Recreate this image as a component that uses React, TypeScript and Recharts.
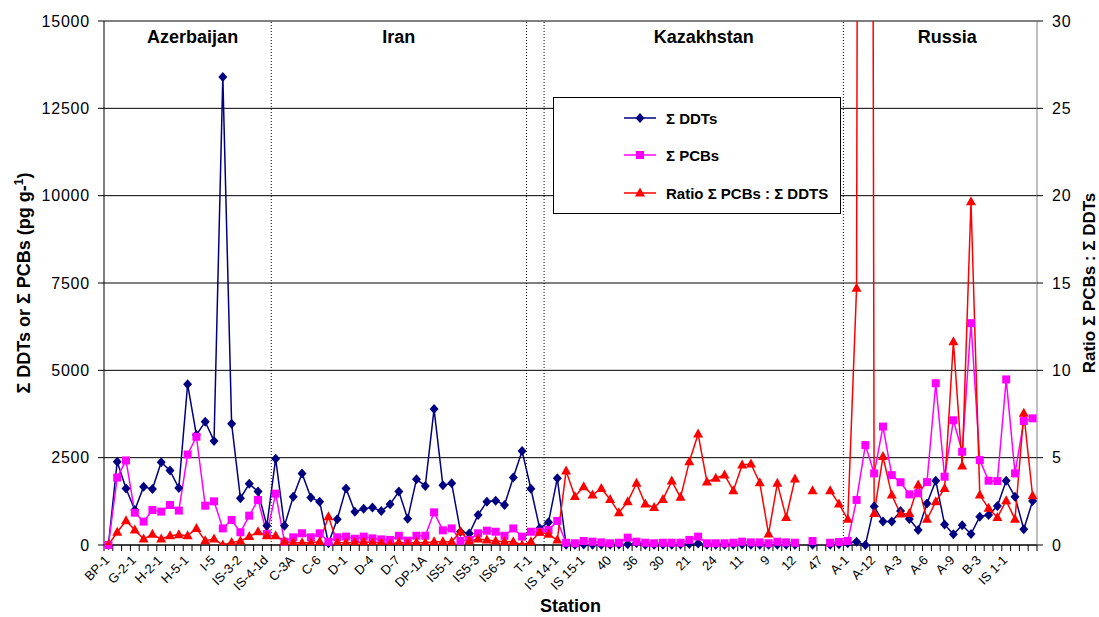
import {
  LineChart,
  Line,
  XAxis,
  YAxis,
  CartesianGrid,
  ReferenceLine,
  ReferenceArea,
} from 'recharts';

// station codes, west to east (only every third one is labelled on the axis)
const stations = [
  'BP-1', 'G-1-1', 'G-1-2', 'G-2-1', 'G-2-2', 'H-1-1', 'H-2-1', 'H-3-1', 'H-4-1', 'H-5-1',
  'I-3', 'I-4', 'I-5', 'IS-2-1', 'IS-3-1', 'IS-3-2', 'IS-4-1a', 'IS-4-1c', 'IS-4-1d', 'C-1',
  'C-2', 'C-3A', 'C-4', 'C-5', 'C-6', 'C-7', 'C-8', 'D-1', 'D-2', 'D-3',
  'D-4', 'D-5', 'D-6', 'D-7', 'D-8', 'DP-1', 'DP-1A', 'DP-2', 'IS4-1', 'IS5-1',
  'IS5-2', 'IS5-2A', 'IS5-3', 'IS6-1', 'IS6-2', 'IS6-3', 'IS7-1', 'IS7-2', 'T-1', 'IS 13-1',
  'IS 13-2', 'IS 14-1', 'IS 14-2', 'IS 14-3', 'IS 15-1', '42', '41', '40', '39', '37',
  '36', '35', '31', '30', '29', '22', '21', '23', '26', '24',
  '19', '13', '11', '10', '8', '9', '14', '15', '12', '46',
  '48', '47', '45', 'A-2', 'A-1', 'A-13', 'A-11', 'A-12', 'A-4', 'A-5',
  'A-3', 'A-7', 'A-8', 'A-6', 'A-10', 'A-11b', 'A-9', 'B-1', 'B-2', 'B-3',
  'IS 2-1', 'IS 2-2', 'IS 1-1', 'IS 1-2', 'IS 1-3', 'IS 1-4',
];

// sum of DDTs, pg/g
const ddt = [
  0, 2385, 1620, 1000, 1670, 1600, 2370, 2130, 1630, 4600,
  3150, 3530, 2980, 13400, 3470, 1340, 1750, 1530, 550, 2470,
  550, 1380, 2050, 1360, 1240, 50, 735, 1620, 950, 1040,
  1070, 970, 1170, 1530, 750, 1880, 1690, 3890, 1710, 1765,
  380, 330, 860, 1240, 1270, 1145, 1930, 2690, 1610, 480,
  650, 1910, 10, 5, 15, 10, 5, 10, 15, 20,
  60, 10, 5, 10, 10, 15, 30, 45, 10, 5,
  10, 10, 15, 10, 10, 5, 10, 10, 5, null,
  10, null, 10, 20, 50, 95, 0, 1100, 670, 670,
  970, 745, 430, 1190, 1840, 590, 305, 565, 315, 810,
  860, 1115, 1840, 1380, 450, 1260,
];

// sum of PCBs, pg/g
const pcb = [
  0, 1930, 2420, 925, 670, 1000, 955, 1145, 985, 2590,
  3100, 1125, 1250, 475, 715, 365, 840, 1290, 315, 1470,
  95, 220, 335, 220, 335, 95, 220, 240, 180, 240,
  190, 160, 145, 265, 125, 265, 265, 935, 420, 475,
  120, 145, 335, 410, 380, 265, 475, 240, 380, 380,
  430, 690, 65, 50, 115, 95, 75, 50, 65, 210,
  95, 65, 50, 65, 65, 65, 145, 240, 50, 50,
  50, 65, 95, 75, 75, 50, 95, 75, 65, null,
  115, null, 65, 85, 115, 1290, 2860, 2050, 3390, 2000,
  1795, 1450, 1480, 1800, 4630, 1955, 3570, 2670, 6350, 2430,
  1840, 1830, 4740, 2050, 3550, 3625,
];

// ratio PCBs : DDTs (A-13 is far off the scale)
const ratio = [
  0, 0.73, 1.39, 0.86, 0.34, 0.61, 0.34, 0.53, 0.59, 0.53,
  0.95, 0.25, 0.34, 0, 0.15, 0.23, 0.48, 0.76, 0.53, 0.53,
  0.19, 0.15, 0.13, 0.13, 0.19, 1.62, 0.15, 0.13, 0.15, 0.19,
  0.13, 0.13, 0.04, 0.15, 0.1, 0.15, 0.13, 0.19, 0.19, 0.19,
  0.76, 0.23, 0.34, 0.29, 0.23, 0.19, 0.19, 0, 0.19, 0.73,
  0.61, 0.29, 4.24, 2.77, 3.34, 2.86, 3.24, 2.61, 1.85, 2.48,
  3.53, 2.35, 2.14, 2.61, 3.66, 2.73, 4.77, 6.35, 3.61, 3.82,
  4.01, 3.11, 4.58, 4.64, 3.57, 0.63, 3.53, 1.58, 3.78, null,
  3.11, null, 3.11, 2.35, 1.47, 14.7, 250, 1.81, 5.06, 2.86,
  1.77, 1.81, 3.44, 1.47, 2.48, 3.24, 11.64, 4.52, 19.65, 2.86,
  2.1, 1.58, 2.54, 1.47, 7.54, 2.82,
];

const regions = [
  { name: 'Azerbaijan', from: -0.5, to: 18.5, dx: 5 },
  { name: 'Iran', from: 18.5, to: 47.5, dx: 0 },
  { name: 'Kazakhstan', from: 49.5, to: 83.5, dx: 10 },
  { name: 'Russia', from: 83.5, to: 105.5, dx: 7 },
];
const dividers = [18.5, 47.5, 49.5, 83.5];

const leftTicks = [0, 2500, 5000, 7500, 10000, 12500, 15000];
const rightTicks = [0, 5, 10, 15, 20, 25, 30];
const LABEL_EVERY = 3;

const data = stations.map((station, i) => ({
  idx: i,
  station,
  ddt: ddt[i],
  pcb: pcb[i],
  ratio: ratio[i],
}));

// category boundaries, where Excel puts its tick marks
const boundaries = stations.map((_, i) => i - 0.5).concat(stations.length - 0.5);

const W = 1099;
const H = 617;
const PLOT_W = 933;
const HALF_BAND = PLOT_W / stations.length / 2;
const FONT = 'Arial, "Liberation Sans", sans-serif';

const StationTick = (props: any) => {
  const { x, y, payload } = props;
  const k = payload.value + 0.5;
  // Excel drops the last label, it would not fit
  if (k % LABEL_EVERY !== 0 || k + LABEL_EVERY > stations.length) return <g />;
  const cx = x + HALF_BAND + 2;
  const ty = y + 8;
  return (
    <text
      x={cx}
      y={ty}
      textAnchor="end"
      transform={`rotate(-45 ${cx} ${ty})`}
      fontSize={13}
      fontFamily={FONT}
      fill="#000"
    >
      {stations[k]}
    </text>
  );
};

const Diamond = (props: any) => {
  const { cx, cy, value, index } = props;
  if (cx == null || cy == null || value == null) return <g key={index} />;
  return (
    <path
      key={index}
      d={`M${cx},${cy - 5} L${cx + 4.5},${cy} L${cx},${cy + 5} L${cx - 4.5},${cy} Z`}
      fill="#000080"
    />
  );
};

const Square = (props: any) => {
  const { cx, cy, value, index } = props;
  if (cx == null || cy == null || value == null) return <g key={index} />;
  return <rect key={index} x={cx - 4} y={cy - 4} width={8} height={8} fill="#ff00ff" />;
};

const Triangle = (props: any) => {
  const { cx, cy, value, index } = props;
  if (cx == null || cy == null || value == null) return <g key={index} />;
  return (
    <path
      key={index}
      d={`M${cx},${cy - 5.5} L${cx + 5},${cy + 3.5} L${cx - 5},${cy + 3.5} Z`}
      fill="#ff0000"
    />
  );
};

const RegionLabel = (props: any) => {
  const { viewBox, text, dx } = props;
  if (!viewBox) return null;
  return (
    <text
      x={viewBox.x + viewBox.width / 2 + dx}
      y={viewBox.y + 22}
      textAnchor="middle"
      fontSize={18}
      fontWeight="bold"
      fontFamily={FONT}
      fill="#000"
    >
      {text}
    </text>
  );
};

const LeftTitle = (props: any) => {
  const { viewBox } = props;
  if (!viewBox) return null;
  const x = viewBox.x + 30;
  const y = viewBox.y + viewBox.height / 2;
  return (
    <text
      x={x}
      y={y}
      textAnchor="middle"
      transform={`rotate(-90 ${x} ${y})`}
      fontSize={18}
      fontWeight="bold"
      fontFamily={FONT}
      fill="#000"
    >
      Σ DDTs or Σ PCBs (pg g-
      <tspan dy={-7} fontSize={12}>1</tspan>
      <tspan dy={7}>)</tspan>
    </text>
  );
};

const RightTitle = (props: any) => {
  const { viewBox } = props;
  if (!viewBox) return null;
  const x = viewBox.x + 58;
  const y = viewBox.y + viewBox.height / 2;
  return (
    <text
      x={x}
      y={y}
      textAnchor="middle"
      transform={`rotate(-90 ${x} ${y})`}
      fontSize={17}
      fontWeight="bold"
      fontFamily={FONT}
      fill="#000"
    >
      Ratio Σ PCBs : Σ DDTs
    </text>
  );
};

const legendRows = [
  { label: 'Σ DDTs', color: '#000080', marker: 'diamond' },
  { label: 'Σ PCBs', color: '#ff00ff', marker: 'square' },
  { label: 'Ratio Σ PCBs : Σ DDTS', color: '#ff0000', marker: 'triangle' },
];

const LegendBox = () => (
  <div
    style={{
      position: 'absolute',
      left: 553,
      top: 97,
      width: 286,
      height: 115,
      border: '1px solid #000',
      background: '#fff',
      fontFamily: FONT,
      fontWeight: 'bold',
      fontSize: 15,
    }}
  >
    {legendRows.map((row, i) => {
      const top = [20, 57, 95][i];
      return (
        <div key={row.label} style={{ position: 'absolute', left: 68, top: top - 8, height: 16, display: 'flex', alignItems: 'center' }}>
          <svg width={36} height={16}>
            <line x1={2} y1={8} x2={34} y2={8} stroke={row.color} strokeWidth={1.5} />
            {row.marker === 'diamond' && <path d="M18,3 L22.5,8 L18,13 L13.5,8 Z" fill={row.color} />}
            {row.marker === 'square' && <rect x={14} y={4} width={8} height={8} fill={row.color} />}
            {row.marker === 'triangle' && <path d="M18,2.5 L23,11.5 L13,11.5 Z" fill={row.color} />}
          </svg>
          <span style={{ marginLeft: 8, whiteSpace: 'nowrap' }}>{row.label}</span>
        </div>
      );
    })}
  </div>
);

export default function App() {
  return (
    <div style={{ position: 'absolute', left: 0, top: 0, width: W, height: H, background: '#fff' }}>
      <LineChart width={W} height={H} data={data} margin={{ top: 21, right: 0, bottom: 0, left: 0 }}>
        <CartesianGrid yAxisId="left" vertical={false} stroke="#000" strokeWidth={1} />
        <XAxis
          type="number"
          dataKey="idx"
          domain={[-0.5, stations.length - 0.5]}
          ticks={boundaries}
          interval={0}
          height={72}
          tickSize={6}
          tick={StationTick}
          tickLine={{ stroke: '#000' }}
          axisLine={{ stroke: '#000' }}
          label={(props: any) => (
            <text
              x={props.viewBox.x + props.viewBox.width / 2}
              y={props.viewBox.y + 67}
              textAnchor="middle"
              fontSize={18}
              fontWeight="bold"
              fontFamily={FONT}
              fill="#000"
            >
              Station
            </text>
          )}
        />
        <YAxis
          yAxisId="left"
          width={104}
          domain={[0, 15000]}
          ticks={leftTicks}
          interval={0}
          tickSize={6}
          tickMargin={8}
          tick={{ fontSize: 16, fill: '#000', fontFamily: FONT, letterSpacing: 0.8 }}
          tickLine={{ stroke: '#000' }}
          axisLine={{ stroke: '#000' }}
          label={<LeftTitle />}
        />
        <YAxis
          yAxisId="right"
          orientation="right"
          width={62}
          domain={[0, 30]}
          allowDataOverflow
          ticks={rightTicks}
          interval={0}
          tickSize={6}
          tickMargin={9}
          tick={{ fontSize: 16, fill: '#000', fontFamily: FONT, letterSpacing: 0.8 }}
          tickLine={{ stroke: '#000' }}
          axisLine={{ stroke: '#808080' }}
          label={<RightTitle />}
        />
        {regions.map((r) => (
          <ReferenceArea
            key={r.name}
            yAxisId="left"
            x1={r.from}
            x2={r.to}
            fill="none"
            fillOpacity={0}
            stroke="none"
            label={<RegionLabel text={r.name} dx={r.dx} />}
          />
        ))}
        {dividers.map((d) => (
          <ReferenceLine key={d} yAxisId="left" x={d} stroke="#000" strokeWidth={1} strokeDasharray="1 2" />
        ))}
        <Line
          yAxisId="left"
          dataKey="ddt"
          stroke="#000080"
          strokeWidth={1.5}
          dot={Diamond}
          activeDot={false}
          isAnimationActive={false}
        />
        <Line
          yAxisId="left"
          dataKey="pcb"
          stroke="#ff00ff"
          strokeWidth={1.5}
          dot={Square}
          activeDot={false}
          isAnimationActive={false}
        />
        <Line
          yAxisId="right"
          dataKey="ratio"
          stroke="#ff0000"
          strokeWidth={1.5}
          dot={Triangle}
          activeDot={false}
          isAnimationActive={false}
        />
      </LineChart>
      <LegendBox />
    </div>
  );
}
